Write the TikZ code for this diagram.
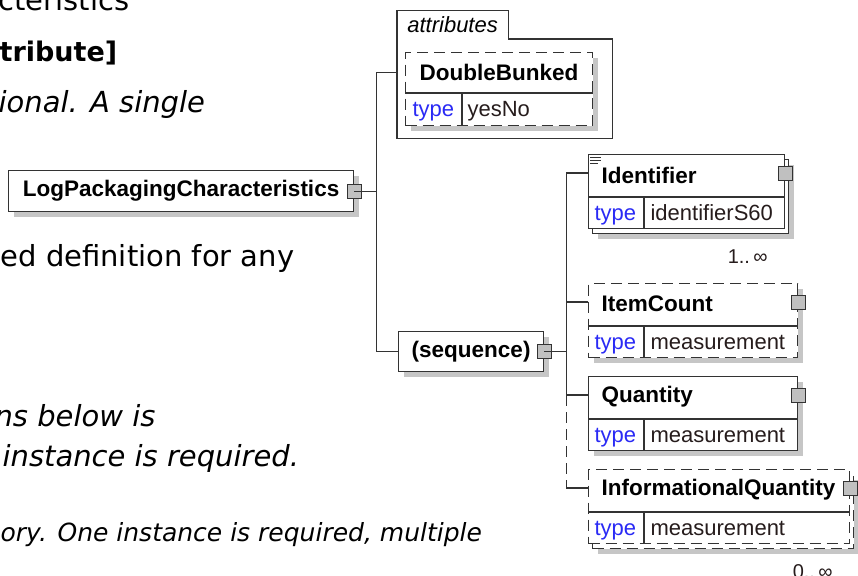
\documentclass[tikz,border=0pt]{standalone}
\usepackage{fontspec}
\setmainfont{Liberation Sans}
\newfontfamily\docfont{DejaVu Sans}
\usetikzlibrary{shadows}
\definecolor{edge}{HTML}{333333}
\definecolor{shade}{HTML}{C6C6C6}
\definecolor{sqgray}{HTML}{C0C0C0}
\definecolor{typeblue}{HTML}{2A2AF5}
\definecolor{valtext}{HTML}{261C1C}
\begin{document}
\begin{tikzpicture}[x=1pt,y=-1pt,line width=1.2pt,
 box/.style={draw=edge,fill=white,inner sep=0pt,anchor=north west},
 shad/.style={drop shadow={shadow xshift=5pt,shadow yshift=-5pt,fill=shade,opacity=1}},
 opt/.style={dash pattern=on 11pt off 6pt},
 lk0/.style={},lk1/.style={opt},sh0/.style={shad},sh1/.style={},
 ename/.style={font=\bfseries\fontsize{22.5}{26}\selectfont,inner sep=0pt},
 tword/.style={font=\fontsize{22}{26}\selectfont,text=typeblue,inner sep=0pt,anchor=base west},
 tval/.style={font=\fontsize{22}{26}\selectfont,text=valtext,inner sep=0pt,anchor=base west},
 sq/.style={draw=edge,fill=sqgray,minimum size=14pt,inner sep=0pt,line width=1pt},
 doc/.style={font=\docfont\fontsize{29}{34}\selectfont,inner sep=0pt,anchor=base west},
 docit/.style={doc,font=\docfont\itshape\fontsize{29}{34}\selectfont}]
\useasboundingbox (0,0) rectangle (858,575);
\node[doc] (d1) at (-2,11) {cteristics};
\node[doc,font=\docfont\bfseries\fontsize{27}{32}\selectfont] (d2) at (-1,62) {tribute]};
\node[docit] (d3) at (-2,113) {ional. A single};
\node[doc] (d4) at (0,266) {ed definition for any};
\node[docit] (d5) at (-6,426) {ns below is};
\node[docit] (d6) at (2,466) {instance is required.};
\node[docit,font=\docfont\itshape\fontsize{25}{30}\selectfont] (d7) at (0,541) {ory. One instance is required, multiple};
\node[box,shad,minimum width=345pt,minimum height=41pt,ename] (root) at (8,170) {LogPackagingCharacteristics};
\node[sq] (rootsq) at (root.east) {};
\coordinate (rfork) at ([xshift=22pt]root.east);
\node[box,draw=none,fill=none,minimum width=214pt,minimum height=98pt] (attrs) at (397,39) {};
\node[anchor=south west,inner sep=0pt,minimum width=110pt,minimum height=27pt,font=\itshape\fontsize{22}{26}\selectfont,text depth=0pt] (attrtab) at (attrs.north west) {attributes};
\draw[edge] (attrs.south west) -- (attrtab.north west) -- (attrtab.north east) -- (attrtab.south east) -- (attrs.north east) -- (attrs.south east) -- cycle;
\node[box,shad,opt,minimum width=187pt,minimum height=73pt] (dbl) at (405,52) {};
\draw[edge] ([yshift=-41pt]dbl.north west) -- ([yshift=-41pt]dbl.north east);
\draw[edge] ([shift={(57pt,-41pt)}]dbl.north west) -- ([xshift=57pt]dbl.south west);
\node[ename] (dbln) at ([yshift=-20.5pt]dbl.north) {DoubleBunked};
\node[tword] (dblt) at ([shift={(7pt,-65pt)}]dbl.north west) {type};
\node[tval] (dblv) at ([shift={(62pt,-65pt)}]dbl.north west) {yesNo};
\draw[edge] (rootsq.center) -- (rfork) |- (attrs.west |- dbln);
\node[box,shad,minimum width=145pt,minimum height=40pt,ename] (seq) at (398,331) {(sequence)};
\draw[edge] (rfork) |- (seq.west);
\node[sq] (seqsq) at (seq.east) {};
\coordinate (sfork) at ([xshift=22pt]seq.east);
\foreach \i/\t/\w/\lab/\typ/\o/\m/\mul in {1/154/196/Identifier/identifierS60/0/1/1,2/283/209/ItemCount/measurement/1/0/,3/376/209/Quantity/measurement/0/0/,4/469/261/InformationalQuantity/measurement/1/1/0}{
\ifnum\m=1\node[box,shad,lk\o,minimum width=\w pt,minimum height=74pt] (b\i) at (592,\t+5) {};
\node[font=\fontsize{20}{22}\selectfont,text=valtext,anchor=east,inner sep=0pt] (m\i) at ([shift={(-21pt,-22pt)}]b\i.south east) {\mul..\,∞};\fi
\node[box,sh\m,lk\o,minimum width=\w pt,minimum height=74pt] (c\i) at (588,\t) {};
\draw[edge] ([yshift=-43pt]c\i.north west) -- ([yshift=-43pt]c\i.north east);
\draw[edge] ([shift={(56pt,-43pt)}]c\i.north west) -- ([xshift=56pt]c\i.south west);
\node[ename,anchor=west] (n\i) at ([shift={(13pt,-21pt)}]c\i.north west) {\lab};
\node[tword] (t\i) at ([shift={(6pt,-66.5pt)}]c\i.north west) {type};
\node[tval] (v\i) at ([shift={(62pt,-66.5pt)}]c\i.north west) {\typ};
\node[sq] (s\i) at ([yshift=-19pt]c\i.north east) {};
\draw[edge] (sfork |- s\i) -- (c\i.west |- s\i);}
\foreach \k/\l in {3pt/11pt,6pt/11pt,9pt/8pt}\draw[edge,line width=.8pt] ([shift={(2pt,-\k)}]c1.north west) -- ++(\l,0);
\draw[edge] (seqsq.center) -- (sfork);
\draw[edge] (sfork |- s1) -- (sfork |- s3);
\draw[edge,opt] (sfork |- s3) -- (sfork |- s4);
\end{tikzpicture}
\end{document}
